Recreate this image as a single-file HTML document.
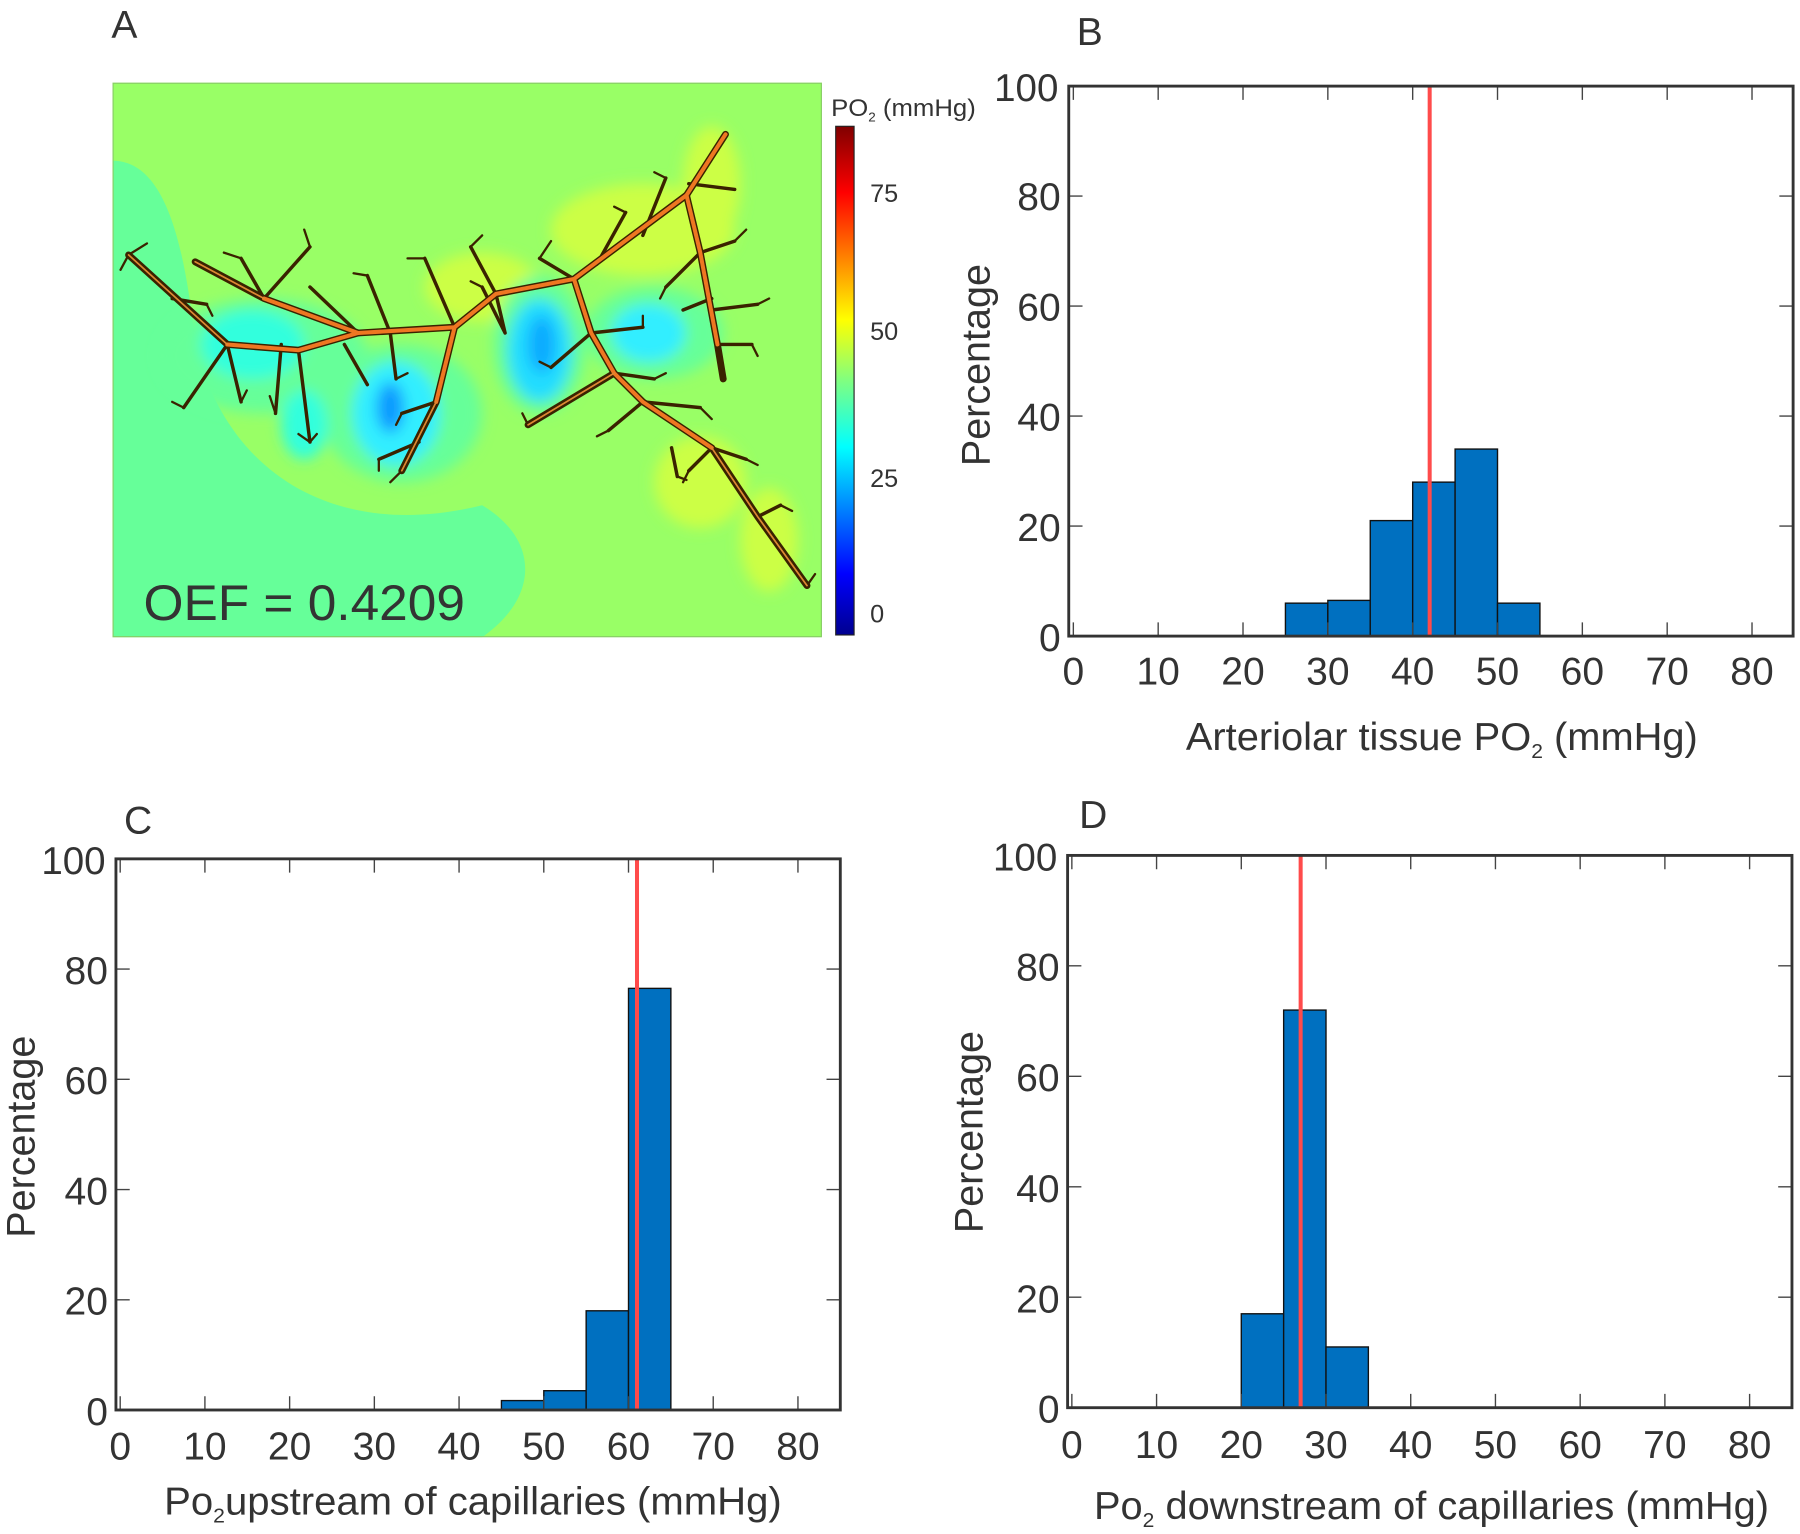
<!DOCTYPE html>
<html><head><meta charset="utf-8"><style>
html,body{margin:0;padding:0;background:#fff;}
svg{display:block;}
text{font-family:"Liberation Sans",sans-serif;fill:#333;}
</style></head><body>
<svg width="1800" height="1534" viewBox="0 0 1568 1336" preserveAspectRatio="none" xmlns="http://www.w3.org/2000/svg">
<defs>
<linearGradient id="jet" x1="0" y1="1" x2="0" y2="0">
<stop offset="0" stop-color="#00008f"/>
<stop offset="0.12" stop-color="#0000ff"/>
<stop offset="0.37" stop-color="#00ffff"/>
<stop offset="0.5" stop-color="#80ff80"/>
<stop offset="0.62" stop-color="#ffff00"/>
<stop offset="0.87" stop-color="#ff0000"/>
<stop offset="1" stop-color="#800000"/>
</linearGradient>
<filter id="blur" x="-20%" y="-20%" width="140%" height="140%"><feGaussianBlur stdDeviation="6"/></filter>
<clipPath id="ca"><rect x="98" y="72" width="618" height="483"/></clipPath>
</defs>

<text x="97" y="33" font-size="34">A</text>
<text x="938" y="39" font-size="34">B</text>
<text x="108" y="726" font-size="34">C</text>
<text x="940" y="721" font-size="34">D</text>

<g clip-path="url(#ca)">
<rect x="98" y="72" width="618" height="483" fill="#99ff66"/>
<path d="M98,140 C140,140 160,200 170,300 C200,420 300,470 420,440 C470,470 470,520 420,555 L98,555 Z" fill="#66ff99"/>
<g filter="url(#blur)">
<ellipse cx="560" cy="200" rx="80" ry="40" fill="#ccff44"/>
<ellipse cx="620" cy="160" rx="25" ry="50" fill="#ccff44"/>
<ellipse cx="610" cy="420" rx="40" ry="40" fill="#ccff44"/>
<ellipse cx="670" cy="470" rx="25" ry="45" fill="#ccff44"/>
<ellipse cx="420" cy="250" rx="50" ry="30" fill="#ccff44"/>
<ellipse cx="230" cy="310" rx="90" ry="50" fill="#66ff99"/>
<ellipse cx="350" cy="360" rx="70" ry="60" fill="#66ff99"/>
<ellipse cx="470" cy="300" rx="40" ry="60" fill="#66ff99"/>
<ellipse cx="570" cy="290" rx="60" ry="40" fill="#66ff99"/>
<ellipse cx="220" cy="300" rx="45" ry="30" fill="#33ffdd"/>
<ellipse cx="345" cy="360" rx="38" ry="45" fill="#33eeff"/>
<ellipse cx="470" cy="305" rx="28" ry="45" fill="#22ddff"/>
<ellipse cx="565" cy="290" rx="32" ry="25" fill="#33eeff"/>
<ellipse cx="265" cy="370" rx="20" ry="30" fill="#33ffdd"/>
<ellipse cx="340" cy="355" rx="12" ry="22" fill="#1199ff"/>
<ellipse cx="472" cy="300" rx="12" ry="25" fill="#11aaff"/>
</g>
<g fill="none" stroke-linecap="round">
<g stroke="#3a2200" stroke-width="6">
<polyline points="632,117 598,170 500,243 432,256 396,285 312,290 260,305 198,300 112,222"/>
<polyline points="312,290 230,260 170,228"/>
<polyline points="500,243 515,290 535,325 560,350 620,390 660,450 703,510"/>
<polyline points="598,170 610,220 625,300 630,330"/>
<polyline points="396,285 380,350 350,410"/>
<polyline points="535,325 460,370"/>
</g>
<g stroke="#3a2200" stroke-width="3">
<path d="M260,305 L270,385 M198,300 L160,355 M198,300 L210,350 M245,300 L240,360 M230,260 L210,225 M230,260 L270,215 M312,290 L270,250 M340,290 L320,240 M340,290 L345,330 M300,300 L320,335 M396,285 L370,225 M432,256 L410,215 M432,256 L440,290 M500,243 L470,225 M520,230 L545,185 M560,205 L580,155 M515,290 L480,320 M515,290 L560,285 M535,325 L570,330 M560,350 L610,355 M560,350 L530,375 M620,390 L600,410 M610,220 L580,250 M610,220 L640,210 M620,260 L595,270 M625,300 L655,300 M620,270 L660,265 M380,350 L350,360 M365,385 L330,400 M660,450 L680,440 M620,390 L650,400 M585,390 L590,415 M150,260 L180,265 M170,228 L210,250 M440,290 L420,250 M600,160 L640,165"/>
</g>
<g stroke="#3a2200" stroke-width="2">
<path d="M112,222 L128,212 M112,222 L105,235 M270,385 L260,378 M270,385 L276,378 M160,355 L150,350 M210,350 L215,340 M240,360 L235,345 M270,215 L265,200 M210,225 L195,220 M320,240 L308,238 M345,330 L355,325 M370,225 L355,225 M410,215 L420,205 M470,225 L480,210 M545,185 L535,180 M580,155 L570,150 M480,320 L470,315 M560,285 L560,275 M570,330 L580,325 M610,355 L620,365 M530,375 L520,380 M600,410 L595,420 M580,250 L575,260 M640,210 L650,200 M655,300 L660,310 M660,265 L670,260 M350,360 L345,370 M330,400 L330,410 M350,410 L340,420 M680,440 L690,445 M703,510 L710,500 M650,400 L660,405 M590,415 L598,418 M180,265 L185,275 M420,250 L410,245 M460,370 L455,360"/>
</g>
<g stroke="#ee7722" stroke-width="3.5">
<polyline points="632,117 598,170 500,243 432,256 396,285 312,290 260,305 198,300"/>
<polyline points="500,243 515,290 535,325 560,350 620,390"/>
<polyline points="598,170 610,220 625,300"/>
<polyline points="312,290 230,260"/>
<polyline points="396,285 380,350"/>
</g>
<g stroke="#dd8833" stroke-width="1.5">
<polyline points="198,300 112,222"/>
<polyline points="230,260 170,228"/>
<polyline points="620,390 660,450 703,510"/>
<polyline points="380,350 350,410"/>
<polyline points="535,325 460,370"/>
</g>
</g>
</g>
<rect x="98.5" y="72.5" width="617" height="482" fill="none" stroke="#88cc66" stroke-width="1"/>
<text x="125" y="540" font-size="44" fill="#333" textLength="280" lengthAdjust="spacingAndGlyphs">OEF = 0.4209</text>

<rect x="728" y="110" width="16" height="443" fill="url(#jet)" stroke="#222" stroke-width="1"/>
<text x="724" y="101" font-size="21" textLength="126" lengthAdjust="spacingAndGlyphs">PO<tspan font-size="11" dy="5">2</tspan><tspan dy="-5"> (mmHg)</tspan></text>
<text x="758" y="176" font-size="22">75</text>
<text x="758" y="296" font-size="22">50</text>
<text x="758" y="424" font-size="22">25</text>
<text x="758" y="542" font-size="22">0</text>

<!-- Panel B -->
<g>
<g fill="#0070c0" stroke="#111" stroke-width="1.2">
<rect x="1119.75" y="525.3" width="36.95" height="28.7"/>
<rect x="1156.7" y="522.9" width="36.95" height="31.1"/>
<rect x="1193.65" y="453.4" width="36.95" height="100.6"/>
<rect x="1230.6" y="419.9" width="36.95" height="134.1"/>
<rect x="1267.55" y="391.1" width="36.95" height="162.9"/>
<rect x="1304.5" y="525.3" width="36.95" height="28.7"/>
</g>
<line x1="1245.4" y1="75" x2="1245.4" y2="554" stroke="#ff4b4b" stroke-width="3.5"/>
<g stroke="#444" stroke-width="1.2">
<path d="M935,554v-12M1008.9,554v-12M1082.8,554v-12M1156.7,554v-12M1230.6,554v-12M1304.5,554v-12M1378.4,554v-12M1452.3,554v-12M1526.2,554v-12
M935,75v12M1008.9,75v12M1082.8,75v12M1156.7,75v12M1230.6,75v12M1304.5,75v12M1378.4,75v12M1452.3,75v12M1526.2,75v12
M931,458.2h12M931,362.4h12M931,266.6h12M931,170.8h12M1562,458.2h-12M1562,362.4h-12M1562,266.6h-12M1562,170.8h-12"/>
</g>
<rect x="931" y="75" width="631" height="479" fill="none" stroke="#333" stroke-width="2.5"/>
<g font-size="34" text-anchor="end">
<text x="924" y="567">0</text><text x="924" y="471">20</text><text x="924" y="375">40</text><text x="924" y="279">60</text><text x="924" y="183">80</text><text x="922" y="88" textLength="56" lengthAdjust="spacingAndGlyphs">100</text>
</g>
<g font-size="34" text-anchor="middle">
<text x="935" y="596">0</text><text x="1008.9" y="596">10</text><text x="1082.8" y="596">20</text><text x="1156.7" y="596">30</text><text x="1230.6" y="596">40</text><text x="1304.5" y="596">50</text><text x="1378.4" y="596">60</text><text x="1452.3" y="596">70</text><text x="1526.2" y="596">80</text>
</g>
<text x="1033" y="653" font-size="34" fill="#111" textLength="446" lengthAdjust="spacingAndGlyphs">Arteriolar tissue PO<tspan font-size="18" dy="7">2</tspan><tspan dy="-7"> (mmHg)</tspan></text>
<text transform="translate(862,318) rotate(-90)" font-size="35" fill="#111" text-anchor="middle" textLength="176" lengthAdjust="spacingAndGlyphs">Percentage</text>
</g>

<!-- Panel C -->
<g>
<g fill="#0070c0" stroke="#111" stroke-width="1.2">
<rect x="436.8" y="1219.8" width="36.9" height="8.2"/>
<rect x="473.7" y="1211.2" width="36.9" height="16.8"/>
<rect x="510.6" y="1141.6" width="36.9" height="86.4"/>
<rect x="547.5" y="860.8" width="36.9" height="367.2"/>
</g>
<line x1="554.9" y1="748" x2="554.9" y2="1228" stroke="#ff4b4b" stroke-width="3.5"/>
<g stroke="#444" stroke-width="1.2">
<path d="M104.7,1228v-12M178.5,1228v-12M252.3,1228v-12M326.1,1228v-12M399.9,1228v-12M473.7,1228v-12M547.5,1228v-12M621.3,1228v-12M695.1,1228v-12
M104.7,748v12M178.5,748v12M252.3,748v12M326.1,748v12M399.9,748v12M473.7,748v12M547.5,748v12M621.3,748v12M695.1,748v12
M101,1132h12M101,1036h12M101,940h12M101,844h12M732,1132h-12M732,1036h-12M732,940h-12M732,844h-12"/>
</g>
<rect x="101" y="748" width="631" height="480" fill="none" stroke="#333" stroke-width="2.5"/>
<g font-size="34" text-anchor="end">
<text x="94" y="1241">0</text><text x="94" y="1145">20</text><text x="94" y="1049">40</text><text x="94" y="953">60</text><text x="94" y="857">80</text><text x="92" y="761" textLength="56" lengthAdjust="spacingAndGlyphs">100</text>
</g>
<g font-size="34" text-anchor="middle">
<text x="104.7" y="1271">0</text><text x="178.5" y="1271">10</text><text x="252.3" y="1271">20</text><text x="326.1" y="1271">30</text><text x="399.9" y="1271">40</text><text x="473.7" y="1271">50</text><text x="547.5" y="1271">60</text><text x="621.3" y="1271">70</text><text x="695.1" y="1271">80</text>
</g>
<text x="143" y="1319" font-size="34" fill="#111" textLength="538" lengthAdjust="spacingAndGlyphs">Po<tspan font-size="18" dy="7">2</tspan><tspan dy="-7">upstream of capillaries (mmHg)</tspan></text>
<text transform="translate(30,990) rotate(-90)" font-size="35" fill="#111" text-anchor="middle" textLength="176" lengthAdjust="spacingAndGlyphs">Percentage</text>
</g>

<!-- Panel D -->
<g>
<g fill="#0070c0" stroke="#111" stroke-width="1.2">
<rect x="1081.3" y="1144.2" width="36.9" height="81.8"/>
<rect x="1118.2" y="879.7" width="36.9" height="346.3"/>
<rect x="1155.1" y="1173.1" width="36.9" height="52.9"/>
</g>
<line x1="1133" y1="745" x2="1133" y2="1226" stroke="#ff4b4b" stroke-width="3.5"/>
<g stroke="#444" stroke-width="1.2">
<path d="M933.7,1226v-12M1007.5,1226v-12M1081.3,1226v-12M1155.1,1226v-12M1228.9,1226v-12M1302.7,1226v-12M1376.5,1226v-12M1450.3,1226v-12M1524.1,1226v-12
M933.7,745v12M1007.5,745v12M1081.3,745v12M1155.1,745v12M1228.9,745v12M1302.7,745v12M1376.5,745v12M1450.3,745v12M1524.1,745v12
M930,1129.8h12M930,1033.6h12M930,937.4h12M930,841.2h12M1561,1129.8h-12M1561,1033.6h-12M1561,937.4h-12M1561,841.2h-12"/>
</g>
<rect x="930" y="745" width="631" height="481" fill="none" stroke="#333" stroke-width="2.5"/>
<g font-size="34" text-anchor="end">
<text x="923" y="1239">0</text><text x="923" y="1143">20</text><text x="923" y="1047">40</text><text x="923" y="950">60</text><text x="923" y="854">80</text><text x="921" y="758" textLength="56" lengthAdjust="spacingAndGlyphs">100</text>
</g>
<g font-size="34" text-anchor="middle">
<text x="933.7" y="1270">0</text><text x="1007.5" y="1270">10</text><text x="1081.3" y="1270">20</text><text x="1155.1" y="1270">30</text><text x="1228.9" y="1270">40</text><text x="1302.7" y="1270">50</text><text x="1376.5" y="1270">60</text><text x="1450.3" y="1270">70</text><text x="1524.1" y="1270">80</text>
</g>
<text x="953" y="1323" font-size="34" fill="#111" textLength="588" lengthAdjust="spacingAndGlyphs">Po<tspan font-size="18" dy="7">2</tspan><tspan dy="-7"> downstream of capillaries (mmHg)</tspan></text>
<text transform="translate(856,986) rotate(-90)" font-size="35" fill="#111" text-anchor="middle" textLength="176" lengthAdjust="spacingAndGlyphs">Percentage</text>
</g>
</svg>
</body></html>
